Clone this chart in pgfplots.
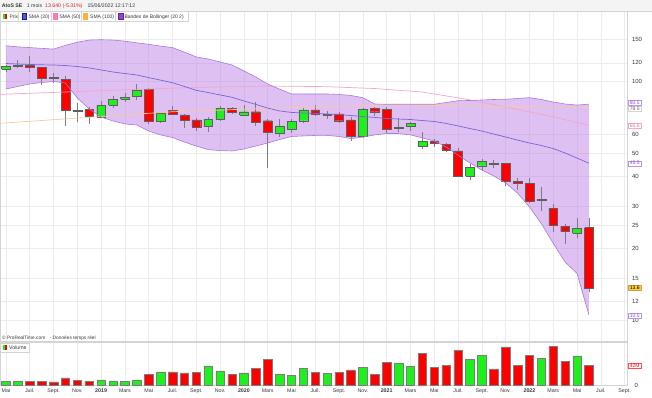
\documentclass[border=0pt]{standalone}
\usepackage{fontspec}
\setmainfont{Liberation Sans}
\usepackage{pgfplots}
\pgfplotsset{compat=1.18}
\usepackage{pgfplotstable}

\definecolor{cred}{RGB}{255,0,0}
\definecolor{cgreen}{RGB}{30,240,30}
\definecolor{wick}{RGB}{125,125,125}
\definecolor{bodyedge}{RGB}{95,95,95}
\definecolor{bandfillc}{RGB}{190,130,230}
\definecolor{bandedge}{RGB}{170,120,222}
\definecolor{smablue}{RGB}{120,100,218}
\definecolor{smapink}{RGB}{245,165,200}
\definecolor{smaorange}{RGB}{255,200,150}
\definecolor{gridc}{RGB}{236,236,236}
\definecolor{framec}{RGB}{212,212,212}
\definecolor{txt}{RGB}{55,55,55}
\definecolor{hdrbg}{RGB}{244,244,244}
\definecolor{purtxt}{RGB}{140,80,210}
\definecolor{pinktxt}{RGB}{240,110,160}
\definecolor{darkred}{RGB}{200,40,40}
\definecolor{yellowbox}{RGB}{255,205,60}
\definecolor{legblue}{RGB}{20,20,170}
\definecolor{legpink}{RGB}{255,120,180}
\definecolor{legorange}{RGB}{255,175,60}
\definecolor{legpurple}{RGB}{110,30,170}

% Bollinger bands (20,2): upper, middle (SMA 20), lower
\pgfplotstableread{
i up mid lo
0 141.5 119.2 93.2
1 140 118.6 95.5
2 139 118.1 97.8
3 138 117.7 99.2
4 137 117.5 100.2
5 142 116.9 98.7
6 146.5 115.8 85.4
7 149.5 114.2 76.8
8 150 112 71.1
9 149.5 109.8 68.4
10 148 108.2 66.5
11 145.5 106.7 65.8
12 143.5 104 62.1
13 141 101.5 59.8
14 139 99 58.3
15 133 95.5 55.8
16 127 92 53.7
17 124.5 90 51.9
18 121 88 51.4
19 117.5 86 51.2
20 111 83 52.2
21 104.6 80.3 53.7
22 97.8 77.5 55.3
23 93 75.4 57.2
24 88.8 74.3 58.9
25 88.8 73.9 59.2
26 88.8 73.6 59.5
27 88.8 73.2 59.5
28 88.4 72.8 58.9
29 87.5 72.1 57.7
30 85.7 71.4 58.6
31 80.6 70.8 59.8
32 80.4 70.1 60.6
33 80.4 69.7 60.6
34 80.4 69.4 59.8
35 80.4 68.7 58.1
36 80.4 68.1 56.4
37 81.8 66.8 53.2
38 83.2 65.2 49.2
39 83.4 63.6 45.6
40 83.8 62.1 42.6
41 84.2 60.3 40.2
42 84.4 58.6 37.6
43 85 56.9 34.1
44 85.7 55.3 29.8
45 84.2 54.0 25.4
46 82.2 52.4 21.0
47 80.6 50.2 17.5
48 79.8 47.8 15.7
49 80.5 45.5 10.5
}\bands

% outline of the band area: upper band forward, lower band backward
\pgfplotstableread{
i v
0 141.5
1 140
2 139
3 138
4 137
5 142
6 146.5
7 149.5
8 150
9 149.5
10 148
11 145.5
12 143.5
13 141
14 139
15 133
16 127
17 124.5
18 121
19 117.5
20 111
21 104.6
22 97.8
23 93
24 88.8
25 88.8
26 88.8
27 88.8
28 88.4
29 87.5
30 85.7
31 80.6
32 80.4
33 80.4
34 80.4
35 80.4
36 80.4
37 81.8
38 83.2
39 83.4
40 83.8
41 84.2
42 84.4
43 85
44 85.7
45 84.2
46 82.2
47 80.6
48 79.8
49 80.5
49 10.5
48 15.7
47 17.5
46 21.0
45 25.4
44 29.8
43 34.1
42 37.6
41 40.2
40 42.6
39 45.6
38 49.2
37 53.2
36 56.4
35 58.1
34 59.8
33 60.6
32 60.6
31 59.8
30 58.6
29 57.7
28 58.9
27 59.5
26 59.5
25 59.2
24 58.9
23 57.2
22 55.3
21 53.7
20 52.2
19 51.2
18 51.4
17 51.9
16 53.7
15 55.8
14 58.3
13 59.8
12 62.1
11 65.8
10 66.5
9 68.4
8 71.1
7 76.8
6 85.4
5 98.7
4 100.2
3 99.2
2 97.8
1 95.5
0 93.2
}\bandpoly

% SMA 50
\pgfplotstableread{
i v
-0.5 88.5
5 90.5
10 92.5
15 94.3
19 95.3
23 95.8
27 95.3
31 93.6
35 90.5
38.7 84.4
41 80.1
43.2 76.1
46 71.2
49 65.6
}\smafifty

% SMA 100
\pgfplotstableread{
i v
-0.5 66.9
9 72
14 74.8
22 77.3
27 78.5
30.6 79.6
37 79.5
42 78.8
49 78
}\smahundred

% Volume (millions): g = up month, r = down month
\pgfplotstableread{
i g r
0 7.6 nan
1 9.2 nan
2 nan 8.4
3 nan 8.4
4 nan 6.9
5 nan 16
6 nan 9.9
7 nan 8.4
8 11.5 nan
9 9.2 nan
10 8.4 nan
11 11.5 nan
12 nan 22.9
13 29 nan
14 nan 29
15 nan 26.7
16 nan 27.5
17 42 nan
18 31.3 nan
19 nan 23.7
20 26.7 nan
21 nan 37.4
22 nan 56.5
23 23.7 nan
24 21.4 nan
25 36.7 nan
26 nan 27.5
27 25.2 nan
28 nan 28.3
29 nan 33.6
30 38.2 nan
31 nan 23.7
32 nan 50.4
33 48.9 nan
34 41.3 nan
35 nan 69.5
36 nan 39.7
37 nan 42.8
38 nan 77.2
39 57.3 nan
40 64.9 nan
41 nan 35.9
42 nan 84
43 nan 42.8
44 nan 65.7
45 58.8 nan
46 nan 84.8
47 nan 52.7
48 64.2 nan
49 nan 42.8
}\voltab

% monthly candles: index/open/high/low/close (May 2018 = 0)
\newcommand\candledata{%
0/112.7/117.5/110/116.3,%
1/116.6/123/114/117.6,%
2/117.5/128/110/115,%
3/114.5/115/97/103.5,%
4/104/108.4/98.5/103,%
5/102/106/65.2/75.6,%
6/76/81/68/75.3,%
7/76.6/78.5/66.2/71.8,%
8/71/83/70.2/79.6,%
9/79.8/87.1/77.4/84.4,%
10/84.4/89.4/82.4/86.2,%
11/86.5/97.5/83.8/92.3,%
12/92.9/93.8/66.2/68.4,%
13/68/74.8/66.9/74.1,%
14/75.6/79/72.5/73.2,%
15/72.5/73.2/64.2/69.1,%
16/69.1/70.2/62.1/64.7,%
17/65.2/71.3/61.6/69.6,%
18/69.5/79/68.7/77.4,%
19/77.4/78.5/73.5/74.6,%
20/72.5/79.8/71.8/74.8,%
21/74.8/82.4/65.2/67.3,%
22/68.6/69.5/43.3/61.6,%
23/60.6/69.6/58.4/65.2,%
24/63.3/69.6/60.7/68,%
25/68.6/77.4/66.9/76.1,%
26/76.1/79.8/71.8/73,%
27/72.6/75.6/69.6/73.1,%
28/73.2/74.8/67.3/68.6,%
29/69.1/71.3/56.3/58.8,%
30/58.8/77.4/57.9/76.6,%
31/77.4/78.5/71.8/74.8,%
32/76.6/78.5/61.1/63.1,%
33/64/70.2/61.6/64.5,%
34/65.2/68/62.3/66.9,%
35/53.8/61.6/52.2/56.5,%
36/56.5/57.3/53.4/55.1,%
37/54.7/55.5/50.9/51.7,%
38/51.3/52.8/40/40.3,%
39/40.1/45.1/38.7/43.7,%
40/44.4/47.5/42/46.4,%
41/45.4/46.9/43.3/44.9,%
42/45.4/45.7/36.5/38.1,%
43/38.1/39.3/35.1/37.5,%
44/37.5/39.3/30.9/31.5,%
45/31.7/36.3/28.8/32.1,%
46/29.4/30.6/23.3/24.9,%
47/24.7/25.2/20.9/23.5,%
48/23.1/26.8/22/24.2,%
49/24.4/26.9/13.1/13.64}

\begin{document}
\begin{tikzpicture}[x=1pt,y=1pt]
\useasboundingbox (0,0) rectangle (652,397);

% ---------------- price panel ----------------
\begin{axis}[
  at={(0pt,56pt)}, anchor=south west,
  width=627pt, height=329.5pt, scale only axis,
  xmin=-0.5, xmax=52.2, ymode=log, ymin=8.165, ymax=197.05,
  xtick={0,2,...,52}, xticklabels={},
  ytick={10,12,15,20,25,30,40,50,60,100,120,150},
  yticklabels={10,12,15,20,25,30,40,50,60,100,120,150},
  yticklabel pos=right,
  major tick length=0pt,
  grid=major, major grid style={draw=gridc, line width=0.5pt},
  axis line style={draw=framec, line width=0.5pt},
  yticklabel style={font=\fontsize{6}{7}\selectfont, text=txt, xshift=1.5pt},
  /pgf/number format/assume math mode=true,
  no markers,
]
\addplot[fill=bandfillc, fill opacity=0.5, draw=none, forget plot] table[x=i,y=v]{\bandpoly} -- cycle;

\foreach \i/\op/\hi/\lo/\cl in \candledata {
  \pgfmathsetmacro\xl{\i-0.37}
  \pgfmathsetmacro\xr{\i+0.37}
  \pgfmathparse{\cl>\op ? 1 : 0}
  \ifdim\pgfmathresult pt>0.5pt \def\fc{cgreen}\else\def\fc{cred}\fi
  \edef\temp{%
    \noexpand\addplot[draw=wick, line width=0.7pt, forget plot] coordinates {(\i,\lo) (\i,\hi)};
    \noexpand\addplot[fill=\fc, draw=bodyedge, line width=0.4pt, forget plot] coordinates {(\xl,\op) (\xr,\op) (\xr,\cl) (\xl,\cl) (\xl,\op)};
  }
  \temp
}

\addplot[smapink, line width=0.7pt] table[x=i,y=v]{\smafifty};
\addplot[smaorange, line width=0.7pt] table[x=i,y=v]{\smahundred};
\addplot[bandedge, line width=0.6pt] table[x=i,y=up]{\bands};
\addplot[bandedge, line width=0.6pt] table[x=i,y=lo]{\bands};
\addplot[smablue, line width=0.7pt] table[x=i,y=mid]{\bands};
\end{axis}

% ---------------- volume panel ----------------
\begin{axis}[
  at={(0pt,12pt)}, anchor=south west,
  width=627pt, height=43pt, scale only axis,
  xmin=-0.5, xmax=52.2, ymin=0, ymax=95,
  xtick={0,2,...,52},
  xticklabels={Mai,Juil.,Sept.,Nov.,\textbf{2019},Mars,Mai,Juil.,Sept.,Nov.,\textbf{2020},Mars,Mai,Juil.,Sept.,Nov.,\textbf{2021},Mars,Mai,Juil.,Sept.,Nov.,\textbf{2022},Mars,Mai,Juil.,Sept.},
  ytick={0}, yticklabels={0}, yticklabel pos=right,
  major tick length=0pt,
  xmajorgrids, ymajorgrids, major grid style={draw=gridc, line width=0.5pt},
  axis line style={draw=framec, line width=0.5pt},
  xticklabel style={font=\fontsize{5.3}{6}\selectfont, text=txt},
  yticklabel style={font=\fontsize{6}{7}\selectfont, text=txt, xshift=4pt},
]
\addplot[ybar, bar width=8.5pt, bar shift=0pt, fill=cgreen, draw=wick, line width=0.5pt] table[x=i,y=g]{\voltab};
\addplot[ybar, bar width=8.5pt, bar shift=0pt, fill=cred, draw=wick, line width=0.5pt] table[x=i,y=r]{\voltab};
\end{axis}

% ---------------- header ----------------
\fill[hdrbg] (0,386) rectangle (652,397);
\draw[framec, line width=0.5pt] (0,386) -- (652,386);
\node[anchor=base west, inner sep=0pt, font=\fontsize{5.2}{6}\selectfont\bfseries, text=txt] at (1.7,389.3) {AtoS SE};
\node[anchor=base west, inner sep=0pt, font=\fontsize{5.2}{6}\selectfont, text=txt] at (26.7,389.3) {1 mois};
\node[anchor=base west, inner sep=0pt, font=\fontsize{5.2}{6}\selectfont, text=darkred] at (45,389.3) {13.640 (-5.31\%)};
\node[anchor=base west, inner sep=0pt, font=\fontsize{5.2}{6}\selectfont, text=txt] at (87.3,389.3) {15/06/2022 12:17:12};

% legend row
\foreach \a/\b in {0/18.3,18.3/51.7,51.7/81.7,81.7/115.7,115.7/188}
  \draw[framec, fill=white, line width=0.5pt] (\a,375.5) rectangle (\b,385.5);
\fill[cgreen] (2.7,377.8) rectangle (5,383.3);
\fill[cred] (5,377.8) rectangle (7.3,383.3);
\draw[legblue, fill=legblue!70] (21.7,377.8) rectangle (26,383.3);
\draw[legpink, fill=legpink] (53.3,377.8) rectangle (57.3,383.3);
\draw[legorange, fill=legorange] (83.3,377.8) rectangle (87.3,383.3);
\draw[legpurple, fill=legpurple!80] (118.3,377.8) rectangle (122.7,383.3);
\node[anchor=base west, inner sep=0pt, font=\fontsize{5}{6}\selectfont, text=txt] at (9.3,378.7) {Prix};
\node[anchor=base west, inner sep=0pt, font=\fontsize{5}{6}\selectfont, text=txt] at (28.3,378.7) {SMA (20)};
\node[anchor=base west, inner sep=0pt, font=\fontsize{5}{6}\selectfont, text=txt] at (59.3,378.7) {SMA (50)};
\node[anchor=base west, inner sep=0pt, font=\fontsize{5}{6}\selectfont, text=txt] at (90,378.7) {SMA (100)};
\node[anchor=base west, inner sep=0pt, font=\fontsize{5}{6}\selectfont, text=txt] at (124.3,378.7) {Bandes de Bollinger (20 2)};

% copyright line and volume legend
\node[anchor=base west, inner sep=0pt, font=\fontsize{4.8}{6}\selectfont, text=txt] at (2,57.3) {© ProRealTime.com\hspace{4.5pt}- Données temps réel};
\draw[framec, fill=white, line width=0.5pt] (0,45) rectangle (29,54);
\fill[cgreen] (2.7,46.7) rectangle (4.7,52.2);
\fill[cred] (4.7,46.7) rectangle (6.7,52.2);
\node[anchor=base west, inner sep=0pt, font=\fontsize{5.2}{6}\selectfont, text=txt] at (9,47.6) {Volume};

% value boxes on the right scale
\tikzset{vbox/.style={anchor=west, inner sep=0.8pt, font=\fontsize{5}{6}\selectfont, fill=white, minimum width=13pt, line width=0.4pt}}
\node[vbox, draw=purtxt!60, text=purtxt] at (628,294.5) {80.5};
\node[vbox, draw=framec, text=txt!80] at (628,288.5) {78.5};
\node[vbox, draw=pinktxt!60, text=pinktxt] at (628,271.5) {65.6};
\node[vbox, draw=purtxt!60, text=purtxt] at (628,233.7) {45.5};
\node[vbox, draw=yellowbox!80!black, fill=yellowbox, text=black] at (628,109.5) {13.6};
\node[vbox, draw=purtxt!60, text=purtxt] at (628,81.7) {10.5};
\node[vbox, draw=cred!70, text=cred] at (628,31) {42M};
\end{tikzpicture}
\end{document}
